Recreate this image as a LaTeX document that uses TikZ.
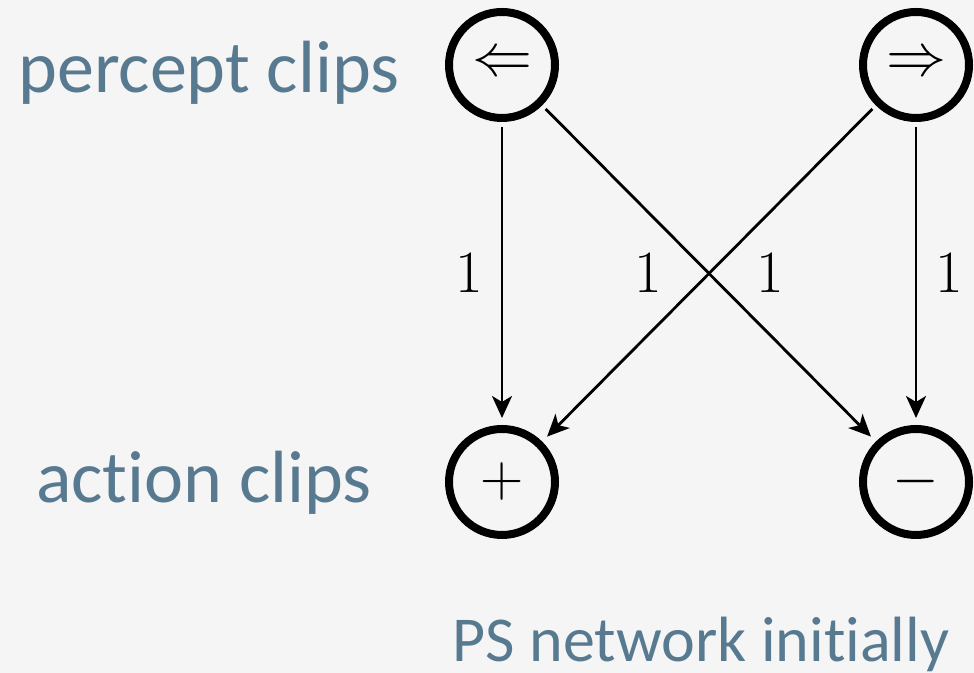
\RequirePackage{fix-cm}
\documentclass[tikz,border=0pt]{standalone}
\usepackage{amsmath}
\usepackage{amssymb}
\usepackage{fontspec}
\usepackage{tikz}
\usetikzlibrary{arrows.meta,positioning}

\newfontfamily\clipfont[Ligatures=NoCommon]{Carlito}
\definecolor{clipgrey}{HTML}{587A91}
\definecolor{paper}{HTML}{F5F5F5}

\begin{document}
\begin{tikzpicture}[x=0.5pt,y=0.5pt,
        clipnode/.style={circle,draw,line width=4pt,minimum size=53pt,inner sep=0pt,
            font=\fontsize{30}{36}\selectfont},
        edgearr/.style={-{Stealth[length=11pt,width=10pt,inset=3pt]},line width=1.4pt,
            shorten <=2.5pt,shorten >=3.5pt},
        weight/.style={inner sep=0pt,font=\fontsize{30}{36}\selectfont},
        rowname/.style={anchor=base,text=clipgrey,font=\clipfont\fontsize{37}{42}\selectfont}]
    \fill[paper] (0,0) rectangle (974,673);
    \useasboundingbox (0,0) rectangle (974,673);
    % clips
    \node[clipnode] (left) at (502,608) {$\Leftarrow$};
    \node[clipnode] (right) at (916,608) {$\Rightarrow$};
    \node[clipnode] (plus) at (502,191) {$+$};
    \node[clipnode] (minus) at (916,191) {$-$};
    % row names
    \node[rowname] (percept) at (209,580) {percept clips};
    \node[rowname] (action) at (204,170) {action clips};
    \node[rowname,font=\clipfont\fontsize{32}{38}\selectfont] (caption) at (701,11) {PS network initially};
    % edges with their weights
    \draw[edgearr] (left) -- (plus) node[weight,midway,left=9pt] {$1$};
    \draw[edgearr] (left) -- (minus) node[weight,midway,right=23pt] {$1$};
    \draw[edgearr] (right) -- (plus) node[weight,midway,left=23pt] {$1$};
    \draw[edgearr] (right) -- (minus) node[weight,midway,right=9pt] {$1$};
\end{tikzpicture}
\end{document}
